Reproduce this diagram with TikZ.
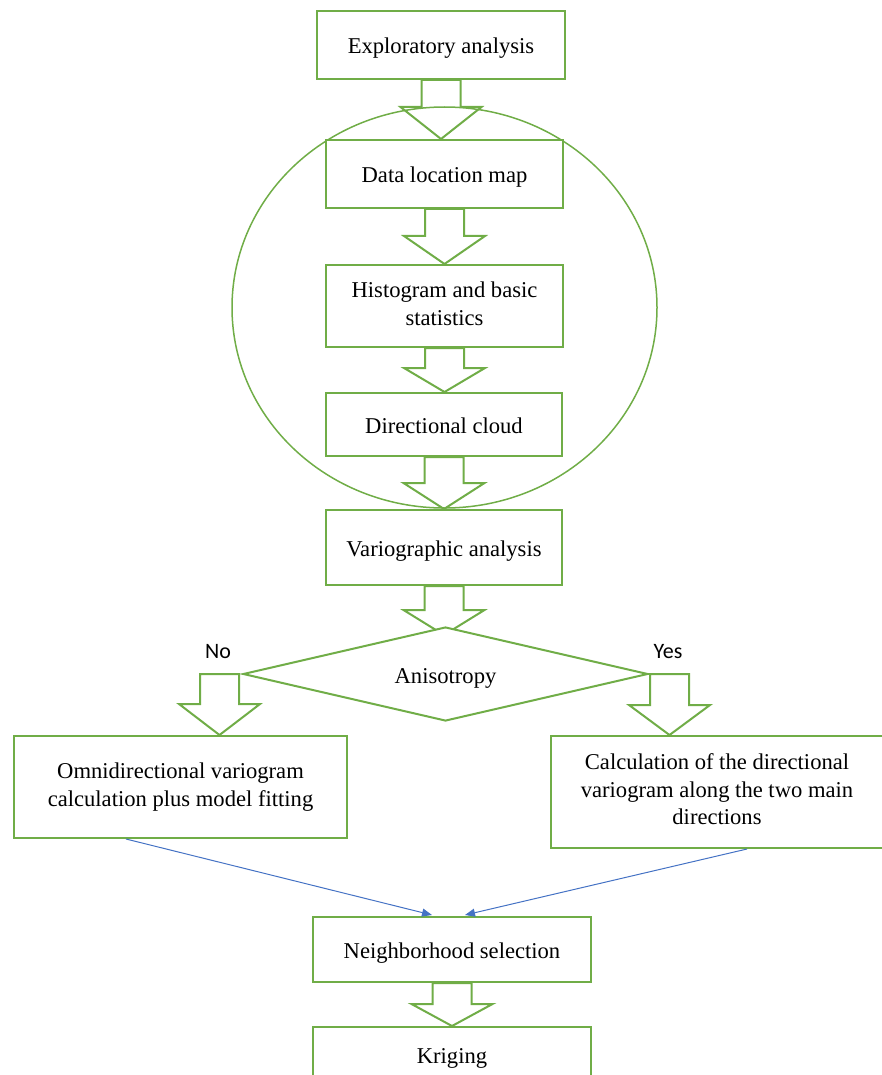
\documentclass[tikz,border=0pt]{standalone}
\usepackage{fontspec}
\setmainfont{Liberation Serif}
\newfontfamily\answerfont{Carlito}
\usepackage{tikz}
\usetikzlibrary{shapes.geometric,arrows.meta,calc}
\definecolor{boxgreen}{HTML}{70AD47}
\definecolor{linkblue}{HTML}{4472C4}
\pgfdeclarelayer{background}
\pgfsetlayers{background,main}
\newcommand{\fatarrow}[3][28]{%
  \begin{pgfonlayer}{background}
    \draw[fat] ($(#2)+(-19.5,0)$) -- ($(#2 |- #3)+(-19.5,-#1)$) -- ++(-21,0)
      -- (#2 |- #3) -- ++(40.5,-#1) -- ++(-21,0) -- ($(#2)+(19.5,0)$) -- cycle;
  \end{pgfonlayer}}
\newcommand{\boxstrut}{\rule[-5pt]{0pt}{28pt}}
\tikzset{
  box/.style={draw=boxgreen, line width=2pt, fill=white, align=center,
    execute at begin node=\boxstrut, execute at end node=\boxstrut},
  decision/.style={diamond, draw=boxgreen, line width=2pt, fill=white, aspect=4.3,
    minimum width=405, minimum height=94, execute at begin node=\boxstrut},
  ring/.style={ellipse, draw=boxgreen, line width=1.5pt, inner sep=0},
  answer/.style={font=\fontsize{22}{26}\answerfont},
  fat/.style={draw=boxgreen, line width=2pt, fill=white, line join=miter},
  link/.style={draw=linkblue, line width=1pt, -{Triangle[length=10pt,width=8pt]}}
}
\begin{document}
\begin{tikzpicture}[x=1pt, y=-1pt, font=\fontsize{22.6}{27.5}\selectfont]
\useasboundingbox (0,0) rectangle (882,1075);
\node[ring, minimum width=425, minimum height=401] (group) at (444.5,307.5) {};
\node[box, minimum width=248, minimum height=68] (explo) at (441,45) {Exploratory analysis};
\node[box, minimum width=237, minimum height=68] (dataloc) at (444.5,174) {Data location map};
\node[box, minimum width=237, minimum height=82] (histo) at (444.5,306) {Histogram and basic\\statistics};
\node[box, minimum width=236, minimum height=63] (dircloud) at (444,424.5) {Directional cloud};
\node[box, minimum width=236, minimum height=75] (vario) at (444,547.5) {Variographic analysis};
\node[decision] (anis) at (445.5,674) {Anisotropy};
\node[answer] (no) at (218,652) {No};
\node[answer] (yes) at (668,652) {Yes};
\node[box, minimum width=333, minimum height=102] (omni) at (180.5,787) {Omnidirectional variogram\\calculation plus model fitting};
\node[box, minimum width=332, minimum height=112] (direcvar) at (717,792) {Calculation of the directional\\variogram along the two main\\directions};
\node[box, minimum width=278, minimum height=65] (neigh) at (452,949.5) {Neighborhood selection};
\node[box, minimum width=278, minimum height=54] (kriging) at (452,1054) {Kriging};

\coordinate (anistip) at ($(anis.north)+(0,9)$);
\coordinate (nostart) at ($(anis.west)+(-22.5,0)$);
\coordinate (yesstart) at ($(anis.east)+(20.5,0)$);

\fatarrow[32]{explo.south}{dataloc.north}
\fatarrow[28]{dataloc.south}{histo.north}
\fatarrow[24]{histo.south}{dircloud.north}
\fatarrow[26]{dircloud.south}{vario.north}
\fatarrow[25]{vario.south}{anistip}
\fatarrow[31]{nostart}{omni.north}
\fatarrow[30]{yesstart}{direcvar.north}
\fatarrow[22]{neigh.south}{kriging.north}

\draw[link] ($(omni.south)+(-54.5,0)$) -- ($(neigh.north)+(-20,-1)$);
\draw[link] ($(direcvar.south)+(30,0)$) -- ($(neigh.north)+(13,-1)$);
\end{tikzpicture}
\end{document}
